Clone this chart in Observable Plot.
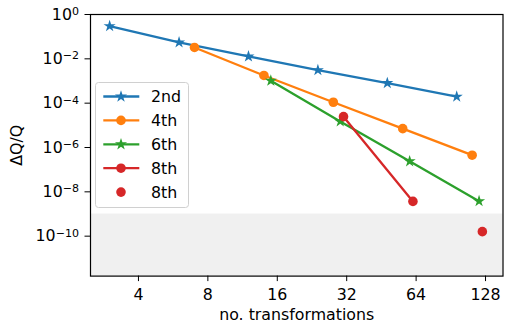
<!DOCTYPE html>
<html><head><meta charset="utf-8">
<script src="https://cdn.jsdelivr.net/npm/d3@7"></script>
<script src="https://cdn.jsdelivr.net/npm/@observablehq/plot@0.6"></script>
<style>
body{margin:0;background:#fff;}
#chart{width:505px;height:323px;}
</style></head><body><div id="chart"></div>
<script>
// ---- data ----
const names = ["2nd", "4th", "6th", "8th"];
const colors = ["#1f77b4", "#ff7f0e", "#2ca02c", "#d62728"];
const symbols = ["star", "circle", "star", "circle"];
const n2 = [3, 6, 12, 24, 48, 96];
const e2 = [0.30, 0.055, 0.0128, 0.0031, 8.1e-4, 1.96e-4];
const n4 = [7, 14, 28, 56, 112];
const e4 = [0.0326, 1.78e-3, 1.1e-4, 7.1e-6, 4.5e-7];
const n6 = [15, 30, 60, 120];
const e6 = [1.03e-3, 1.5e-5, 2.4e-7, 3.8e-9];
const n8 = [31, 62];
const e8 = [2.46e-5, 3.7e-9];
const n8extra = [124];
const e8extra = [1.6e-10];
const xTicks = [4, 8, 16, 32, 64, 128];
const yTickExps = [0, -2, -4, -6, -8, -10];
const threshold = 1e-9;
const xDomain = [2.478, 152.4];
const yDomain = [1.58e-12, 1];

const ns = [n2, n4, n6, n8];
const es = [e2, e4, e6, e8];
const series = names.map((name, i) => ({
  name, color: colors[i], symbol: symbols[i],
  rows: ns[i].map((n, j) => ({n, e: es[i][j]}))
}));
const extraRows = n8extra.map((n, j) => ({n, e: e8extra[j]}));

const FS = 15.8;
const STAR_R = 3.8, DOT_R = 4.8;
const marks = [
  Plot.rect([{x1: xDomain[0], x2: xDomain[1], y1: yDomain[0], y2: threshold}],
    {x1: "x1", x2: "x2", y1: "y1", y2: "y2", fill: "#f0f0f0"})
];
for (const s of series) {
  marks.push(Plot.line(s.rows, {x: "n", y: "e", stroke: s.color, strokeWidth: 2.3}));
  marks.push(Plot.dot(s.rows, {x: "n", y: "e", fill: s.color, stroke: "none",
    symbol: s.symbol, r: s.symbol === "star" ? STAR_R : DOT_R}));
}
marks.push(Plot.dot(extraRows, {x: "n", y: "e", fill: colors[3], stroke: "none", symbol: "circle", r: DOT_R}));
marks.push(Plot.axisX(xTicks, {tickSize: 5.5, tickPadding: 7, stroke: "black", fill: "black",
  tickFormat: d => String(d), label: "no. transformations", labelArrow: "none",
  labelAnchor: "center", labelOffset: 43.5}));
marks.push(Plot.axisY(yTickExps.map(e => 10 ** e), {tickSize: 5.5, tickPadding: 6, stroke: "black", fill: "black",
  tickFormat: d => "10|" + String(Math.round(Math.log10(d))).replace("-", "\u2212"),
  label: "ΔQ/Q", labelArrow: "none", labelAnchor: "center", labelOffset: 80}));
marks.push(Plot.frame({stroke: "black", strokeWidth: 1.2}));

const chart = Plot.plot({
  width: 505, height: 323,
  marginLeft: 90, marginRight: 2.5, marginTop: 14, marginBottom: 47.4,
  style: {fontFamily: "DejaVu Sans", fontSize: FS + "px", background: "white", overflow: "visible"},
  x: {type: "log", base: 2, domain: xDomain},
  y: {type: "log", domain: yDomain},
  marks
});
document.getElementById("chart").append(chart);

// superscript exponents for y tick labels
d3.select(chart).selectAll('g[aria-label="y-axis tick label"] text').each(function() {
  const t = this.textContent;
  const [base, exp] = t.split("|");
  const sel = d3.select(this);
  sel.text(base);
  sel.append("tspan").attr("dy", "-0.42em").attr("font-size", "0.7em").text(exp);
});

// legend
const svg = d3.select(chart);
const lg = svg.append("g").attr("transform", "translate(95,82)").attr("text-anchor", "start");
lg.append("rect").attr("x", 0.5).attr("y", 0.5).attr("width", 93).attr("height", 125)
  .attr("rx", 3).attr("fill", "white").attr("fill-opacity", 0.8).attr("stroke", "#d0d0d0");
const entries = series.map(s => ({name: s.name, color: s.color, symbol: s.symbol, line: true}))
  .concat([{name: names[3], color: colors[3], symbol: "circle", line: false}]);
entries.forEach((d, i) => {
  const cy = 14.5 + i * 23.9;
  const g = lg.append("g").attr("transform", `translate(0,${cy})`);
  if (d.line) g.append("line").attr("x1", 8.3).attr("x2", 44.3).attr("stroke", d.color).attr("stroke-width", 2.3);
  const sym = d.symbol === "star" ? d3.symbolStar : d3.symbolCircle;
  const r = d.symbol === "star" ? STAR_R : DOT_R;
  g.append("path").attr("transform", "translate(26,0)")
    .attr("d", d3.symbol(sym, Math.PI * r * r)()).attr("fill", d.color);
  g.append("text").attr("x", 56).attr("dy", "0.36em").attr("fill", "black")
    .attr("text-anchor", "start").attr("font-size", FS + "px").text(d.name);
});
</script></body></html>
